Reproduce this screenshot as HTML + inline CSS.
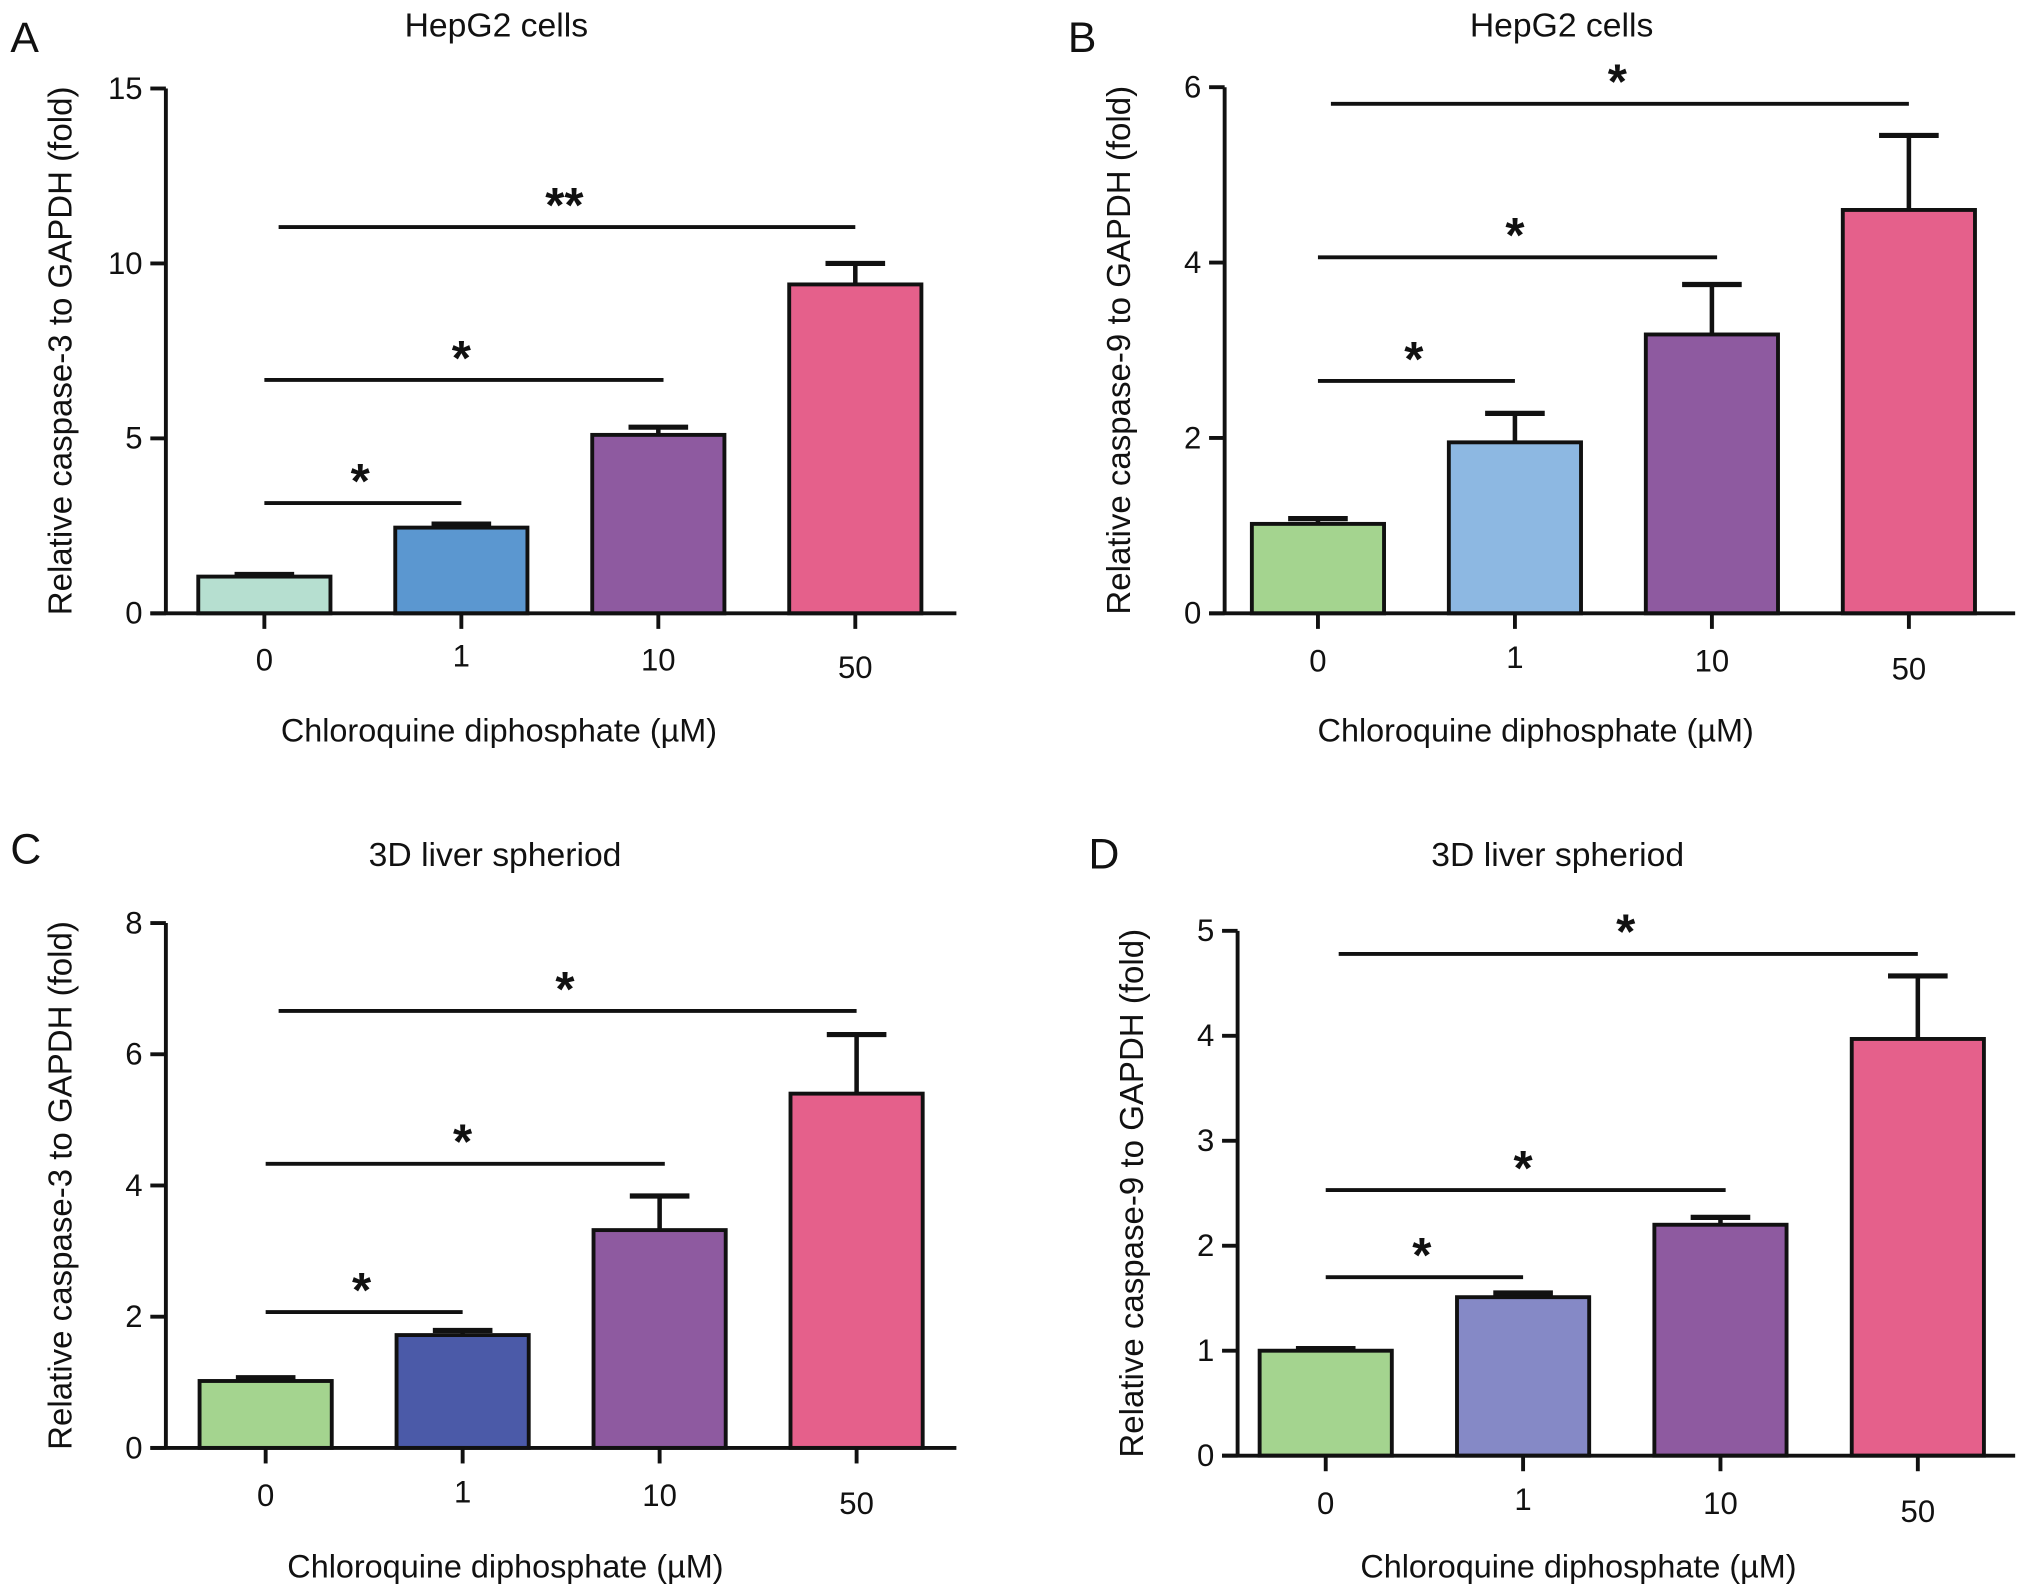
<!DOCTYPE html>
<html><head><meta charset="utf-8"><style>
html,body{margin:0;padding:0;background:#fff}
svg{display:block}
text{font-family:"Liberation Sans",Arial,sans-serif;fill:#111}
</style></head><body>
<svg id="fig" width="2032" height="1596" viewBox="0 0 1568 1231" xmlns="http://www.w3.org/2000/svg"></svg>
<script>
const categories = ["0","1","10","50"];
const panelA_values = [1.05, 2.45, 5.1, 9.4];
const panelA_errors = [0.06, 0.1, 0.22, 0.6];
const panelA_ticks = [0, 5, 10, 15];
const panelA_sigLevels = [3.15, 6.67, 11.04];
const panelA_sigLabels = ["*", "*", "**"];
const panelB_values = [1.02, 1.95, 3.18, 4.6];
const panelB_errors = [0.06, 0.33, 0.57, 0.85];
const panelB_ticks = [0, 2, 4, 6];
const panelB_sigLevels = [2.65, 4.06, 5.81];
const panelB_sigLabels = ["*", "*", "*"];
const panelC_values = [1.02, 1.72, 3.32, 5.4];
const panelC_errors = [0.05, 0.07, 0.52, 0.9];
const panelC_ticks = [0, 2, 4, 6, 8];
const panelC_sigLevels = [2.07, 4.33, 6.66];
const panelC_sigLabels = ["*", "*", "*"];
const panelD_values = [1.0, 1.51, 2.2, 3.97];
const panelD_errors = [0.02, 0.04, 0.07, 0.6];
const panelD_ticks = [0, 1, 2, 3, 4, 5];
const panelD_sigLevels = [1.70, 2.53, 4.78];
const panelD_sigLabels = ["*", "*", "*"];

const svg = document.getElementById('fig');
const NS = 'http://www.w3.org/2000/svg';
function mk(tag, attrs, parent){
  const e = document.createElementNS(NS, tag);
  for (const k in attrs) e.setAttribute(k, attrs[k]);
  (parent||svg).appendChild(e);
  return e;
}
function txt(str, x, y, size, parent, extra){
  const t = mk('text', Object.assign({x:x, y:y, 'font-size':size, 'text-anchor':'middle'}, extra||{}), parent);
  t.textContent = str;
  return t;
}
function panel(cfg){
  const g = mk('g', {});
  
  
  const ax = cfg.ax, top = cfg.top, zero = cfg.zero, right = cfg.right;
  const ymax = cfg.ticks[cfg.ticks.length-1];
  const y = v => zero - (zero - top) * v / ymax;
  const x = i => cfg.x0 + i * cfg.step;
  const bw = 102;
  const L = txt(cfg.id, cfg.letterX, cfg.letterY, 33, g, {'text-anchor':'start'});
  
  
  const T = txt(cfg.title, cfg.titleX, cfg.titleY, 26, g);
  
  
  cfg.values.forEach((v, i) => {
    const cx = x(i), e = cfg.errors[i];
    const eb = mk('g', {stroke:'#111', 'stroke-width':3.5}, g);
    
    
    mk('line', {x1:cx, x2:cx, y1:y(v), y2:y(v+e)}, eb);
    mk('line', {x1:cx-23, x2:cx+23, y1:y(v+e), y2:y(v+e), 'stroke-width':4}, eb);
    const r = mk('rect', {x:cx-bw/2, y:y(v), width:bw, height:zero-y(v), fill:cfg.colors[i], stroke:'#111', 'stroke-width':3}, g);
    
    
    const tl = txt(categories[i], cx, cfg.tickLabY + (i===3?6:(i===1?-3:0)), 24, g);
    
    
    mk('line', {x1:cx, x2:cx, y1:zero, y2:zero+12, stroke:'#111', 'stroke-width':3}, g);
  });
  const ya = mk('line', {x1:ax, x2:ax, y1:top, y2:zero, stroke:'#111', 'stroke-width':3}, g);
  
  
  const xa = mk('line', {x1:ax-12, x2:right, y1:zero, y2:zero, stroke:'#111', 'stroke-width':3}, g);
  
  
  cfg.ticks.forEach(t => {
    mk('line', {x1:ax-12, x2:ax, y1:y(t), y2:y(t), stroke:'#111', 'stroke-width':3}, g);
    const l = txt(String(t), ax-18, y(t)+8, 24, g, {'text-anchor':'end'});
    
    
  });
  const yt = txt(cfg.ylabel, 0, 0, 25.5, g, {transform:`translate(${ax-73},${(top+zero)/2}) rotate(-90)`});
  
  
  const xt = txt('Chloroquine diphosphate (\u00b5M)', cfg.xtitleX, cfg.xtitleY, 25, g);
  
  
  const pairs = [[0,1],[0,2],[0,3]];
  cfg.sig.forEach((s, k) => {
    const [a, b] = pairs[k];
    const x1 = x(a) + (k===2 ? cfg.sig3off : 0), x2 = x(b) + (k===1 ? cfg.sig2off : 0);
    const sl = mk('line', {x1:x1, x2:x2, y1:y(s), y2:y(s), stroke:'#111', 'stroke-width':3}, g);
    
    
    const st = txt(cfg.sigLabels[k], (x1+x2)/2 - 2, y(s) - 4, 38, g, {'font-weight':'bold'});
    
    
  });
}
panel({id:'A', title:'HepG2 cells', titleX:383, titleY:28, letterX:8, letterY:40,
  ax:128, top:68, zero:473, right:738, x0:204, step:152, ticks:panelA_ticks,
  values:panelA_values, errors:panelA_errors, sig:panelA_sigLevels, sigLabels:panelA_sigLabels,
  sig2off:4, sig3off:11,
  colors:['#b6dfd0','#5b97d0','#8e5aa0','#e5608b'], tickLabY:517,
  ylabel:'Relative caspase-3 to GAPDH (fold)', xtitleX:385, xtitleY:572});
panel({id:'B', title:'HepG2 cells', titleX:1205, titleY:28, letterX:824, letterY:40,
  ax:945, top:67, zero:473, right:1555, x0:1017, step:152, ticks:panelB_ticks,
  values:panelB_values, errors:panelB_errors, sig:panelB_sigLevels, sigLabels:panelB_sigLabels,
  sig2off:4, sig3off:10,
  colors:['#a4d48f','#8db8e2','#8e5aa0','#e5608b'], tickLabY:518,
  ylabel:'Relative caspase-9 to GAPDH (fold)', xtitleX:1185, xtitleY:572});
panel({id:'C', title:'3D liver spheriod', titleX:382, titleY:668, letterX:8, letterY:666,
  ax:128, top:712, zero:1117, right:738, x0:205, step:152, ticks:panelC_ticks,
  values:panelC_values, errors:panelC_errors, sig:panelC_sigLevels, sigLabels:panelC_sigLabels,
  sig2off:4, sig3off:10,
  colors:['#a4d48f','#4b5aa8','#8e5aa0','#e5608b'], tickLabY:1162,
  ylabel:'Relative caspase-3 to GAPDH (fold)', xtitleX:390, xtitleY:1217});
panel({id:'D', title:'3D liver spheriod', titleX:1202, titleY:668, letterX:840, letterY:670,
  ax:955, top:718, zero:1123, right:1555, x0:1023, step:152.3, ticks:panelD_ticks,
  values:panelD_values, errors:panelD_errors, sig:panelD_sigLevels, sigLabels:panelD_sigLabels,
  sig2off:4, sig3off:10,
  colors:['#a4d48f','#8589c6','#8e5aa0','#e5608b'], tickLabY:1168,
  ylabel:'Relative caspase-9 to GAPDH (fold)', xtitleX:1218, xtitleY:1217});
</script>
</body></html>
